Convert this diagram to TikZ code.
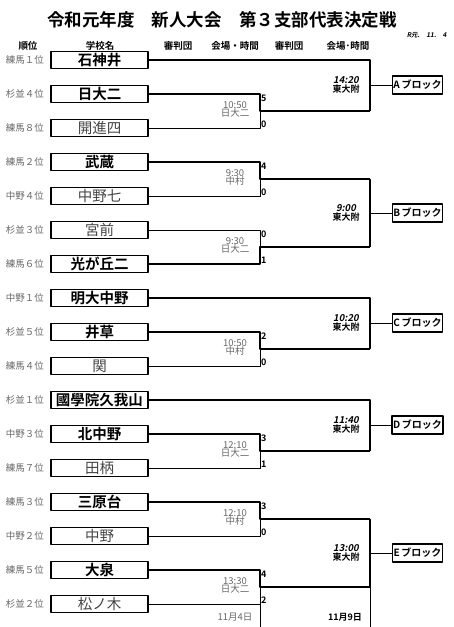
\documentclass[tikz,border=0pt]{standalone}
\usepackage{fontspec}
\setmainfont{Noto Sans CJK JP}[BoldFont={Noto Sans CJK JP Bold}, ItalicFont={Noto Sans CJK JP}, ItalicFeatures={FakeSlant=0.2}, BoldItalicFont={Noto Sans CJK JP Bold}, BoldItalicFeatures={FakeSlant=0.2}]
\usetikzlibrary{positioning}
\definecolor{labelgray}{HTML}{666666}
\definecolor{namegray}{HTML}{444444}
\tikzset{
	team/.style={draw, line width=1.4pt, minimum width=97pt, minimum height=17pt, inner sep=0pt},
	won/.style={font=\bfseries\fontsize{14.5}{14.5}\selectfont},
	lost/.style={font=\fontsize{14.5}{14.5}\selectfont, text=namegray},
	rank/.style={font=\fontsize{9.5}{9.5}\selectfont, text=labelgray},
	head/.style={font=\bfseries\fontsize{9.5}{9.5}\selectfont},
	winline/.style={line width=2.2pt},
	loseline/.style={line width=0.8pt},
	score/.style={anchor=west, inner sep=0pt, font=\bfseries\fontsize{9}{9}\selectfont},
	venue/.style={inner sep=0pt, text=labelgray, font=\fontsize{9.5}{9.5}\selectfont},
	final/.style={inner sep=0pt, font=\bfseries\fontsize{9}{9}\selectfont},
	blockbox/.style={draw, line width=1.4pt, minimum width=49pt, minimum height=18pt, inner sep=1pt, font=\bfseries\fontsize{10}{10}\selectfont}
}

\begin{document}
\begin{tikzpicture}[x=1pt, y=-1pt, line join=round]
	\useasboundingbox (0,0) rectangle (453,627);
	\node[font=\bfseries\fontsize{17.5}{17.5}\selectfont] (title) at (222,20) {令和元年度　新人大会　第３支部代表決定戦};
	\node[anchor=east, font=\bfseries\itshape\fontsize{6.5}{6.5}\selectfont] (made) at (450,35) {R元.　11.　4};
	\foreach \x/\t [count=\i] in {28/順位, 100/学校名, 178/審判団, 235/会場・時間, 289/審判団, 348/会場･時間}
		\node[head] (h\i) at (\x,46) {\t};
	% teams
	\foreach \r/\n/\s [count=\i] in {練馬１位/石神井/won, 杉並４位/日大二/won, 練馬８位/開進四/lost, 練馬２位/武蔵/won, 中野４位/中野七/lost, 杉並３位/宮前/lost, 練馬６位/光が丘二/won, 中野１位/明大中野/won, 杉並５位/井草/won, 練馬４位/関/lost, 杉並１位/國學院久我山/won, 中野３位/北中野/won, 練馬７位/田柄/lost, 練馬３位/三原台/won, 中野２位/中野/lost, 練馬５位/大泉/won, 杉並２位/松ノ木/lost} {
		\node[team, \s] (s\i) at (99.5, {60+34*(\i-1)}) {\n};
		\node[rank, left=3pt of s\i] (r\i) {\r};
	}
	% first round
	\foreach \a/\b/\w/\sa/\sb/\t/\j in {2/3/1/5/0/10:50/日大二, 4/5/1/4/0/9:30/中村, 6/7/2/0/1/9:30/日大二, 9/10/1/2/0/10:50/中村, 12/13/1/3/1/12:10/日大二, 14/15/1/3/0/12:10/中村, 16/17/1/4/2/13:30/日大二} {
		\coordinate (m\a) at (260, {60+34*(\a-1)+17});
		\coordinate (q\a) at (370, {60+34*(\a-1)+17});
		\ifnum\w=1
			\draw[loseline] (s\b.east) -| (m\a);
			\draw[winline] (s\a.east) -| (m\a) -- (q\a);
		\else
			\draw[loseline] (s\a.east) -| (m\a);
			\draw[winline] (s\b.east) -| (m\a) -- (q\a);
		\fi
		\node[score] (p\a) at (261, {60+34*(\a-1)+4}) {\sa};
		\node[score] (p\b) at (261, {60+34*(\b-1)-4}) {\sb};
		\node[venue] (t\a) at (235, {60+34*(\a-1)+11}) {\t};
		\node[venue] (v\a) at (235, {60+34*(\a-1)+19}) {\j};
	}
	% second round
	\draw[winline] (s1.east) -| (q2);
	\draw[winline] (q4) -- (q6);
	\draw[winline] (s8.east) -| (q9);
	\draw[winline] (s11.east) -| (q12);
	\draw[winline] (q14) -- (q16);
	\foreach \k/\y/\t in {A/85/14:20, B/213/9:00, C/323/10:20, D/425/11:40, E/553/13:00} {
		\node[blockbox] (b\k) at (417.5,\y) {\k\,ブロック};
		\draw[loseline] (b\k.west) -- (b\k.west -| q2);
		\node[final, font=\bfseries\itshape\fontsize{9.5}{9.5}\selectfont] (f\k) at (346, \y-5) {\t};
		\node[final] (g\k) at (346, \y+4) {東大附};
	}
	% date columns
	\coordinate (end1) at (260,627);
	\coordinate (end2) at (370,627);
	\draw[loseline] (m16) -- (end1);
	\draw[loseline] (q16) -- (end2);
	\node[venue] (d1) at (235,617) {11月4日};
	\node[final] (d2) at (345,617) {11月9日};
\end{tikzpicture}
\end{document}
